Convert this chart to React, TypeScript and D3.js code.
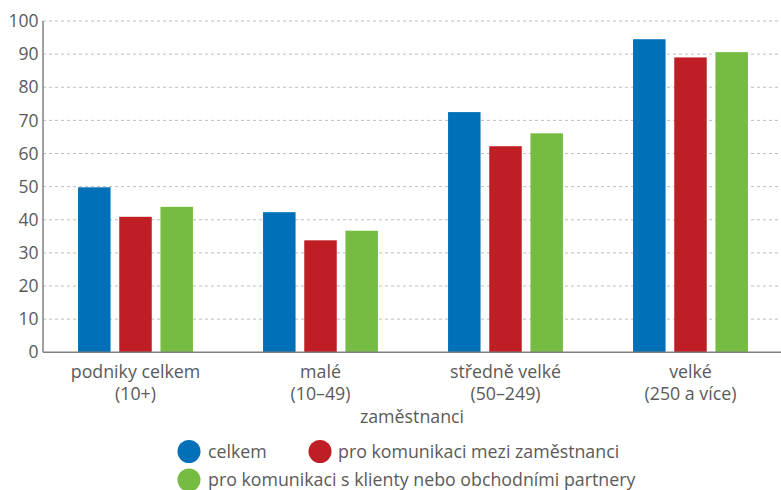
import React from "react";
import * as d3 from "d3";

const categories = [
  ["podniky celkem", "(10+)"],
  ["malé", "(10–49)"],
  ["středně velké", "(50–249)"],
  ["velké", "(250 a více)"],
];
const seriesNames = [
  "celkem",
  "pro komunikaci mezi zaměstnanci",
  "pro komunikaci s klienty nebo obchodními partnery",
];
const celkem = [49.8, 42.3, 72.5, 94.5];
const mezi = [40.9, 33.8, 62.2, 89.0];
const klienti = [43.9, 36.7, 66.1, 90.6];
const yTicks = [0, 10, 20, 30, 40, 50, 60, 70, 80, 90, 100];
const colors = ["#0070b8", "#be1e24", "#76bc43"];

export default function App() {
  const W = 781, H = 490;
  const left = 43, right = 783, top = 21, bottom = 352.3;
  const x = d3.scaleBand<number>().domain(d3.range(categories.length)).range([left, right]).paddingInner(0).paddingOuter(0);
  const y = d3.scaleLinear().domain([0, 100]).range([bottom, top]);
  const series = [celkem, mezi, klienti];
  const barW = 32.5, gap = 8.7;
  const font = "'Open Sans', sans-serif";
  const txt = "#5a5a5a";
  const fs = 17.8;
  return (
    <svg width={W} height={H} style={{ position: "absolute", left: 0, top: 0 }} fontFamily={font}>
      {yTicks.map((t) => (
        <g key={t}>
          {t > 0 && (
            <line x1={left} x2={W} y1={y(t)} y2={y(t)} stroke="#bdbdbd" strokeWidth={1} strokeDasharray="3,3" />
          )}
          <text x={38.5} y={y(t)} dy="0.35em" textAnchor="end" fontSize={17.5} fill={txt}>{t}</text>
        </g>
      ))}
      {series.map((vals, si) =>
        vals.map((v, ci) => {
          const cx = (x(ci) as number) + x.bandwidth() / 2;
          const bx = cx - 1.5 * barW - gap + si * (barW + gap);
          return <rect key={si + "-" + ci} x={bx} y={y(v)} width={barW} height={bottom - y(v)} fill={colors[si]} />;
        })
      )}
      <line x1={left} x2={left} y1={top} y2={bottom} stroke="#808080" strokeWidth={1.5} />
      <line x1={left} x2={W} y1={bottom} y2={bottom} stroke="#808080" strokeWidth={1.5} />
      {categories.map((c, ci) => {
        const cx = (x(ci) as number) + x.bandwidth() / 2;
        return (
          <text key={ci} x={cx} textAnchor="middle" fontSize={fs} fill={txt}>
            <tspan x={cx} y={377.5}>{c[0]}</tspan>
            <tspan x={cx} y={399.5}>{c[1]}</tspan>
          </text>
        );
      })}
      <text x={412} y={422.5} textAnchor="middle" fontSize={fs} fill={txt}>zaměstnanci</text>
      <circle cx={189} cy={451.5} r={11.5} fill={colors[0]} />
      <text x={208} y={451.5} dy="0.35em" fontSize={fs} fill={txt}>{seriesNames[0]}</text>
      <circle cx={320} cy={451.5} r={11.5} fill={colors[1]} />
      <text x={338} y={451.5} dy="0.35em" fontSize={fs} fill={txt}>{seriesNames[1]}</text>
      <circle cx={189} cy={480} r={11.5} fill={colors[2]} />
      <text x={208} y={480} dy="0.35em" fontSize={fs} fill={txt}>{seriesNames[2]}</text>
    </svg>
  );
}
